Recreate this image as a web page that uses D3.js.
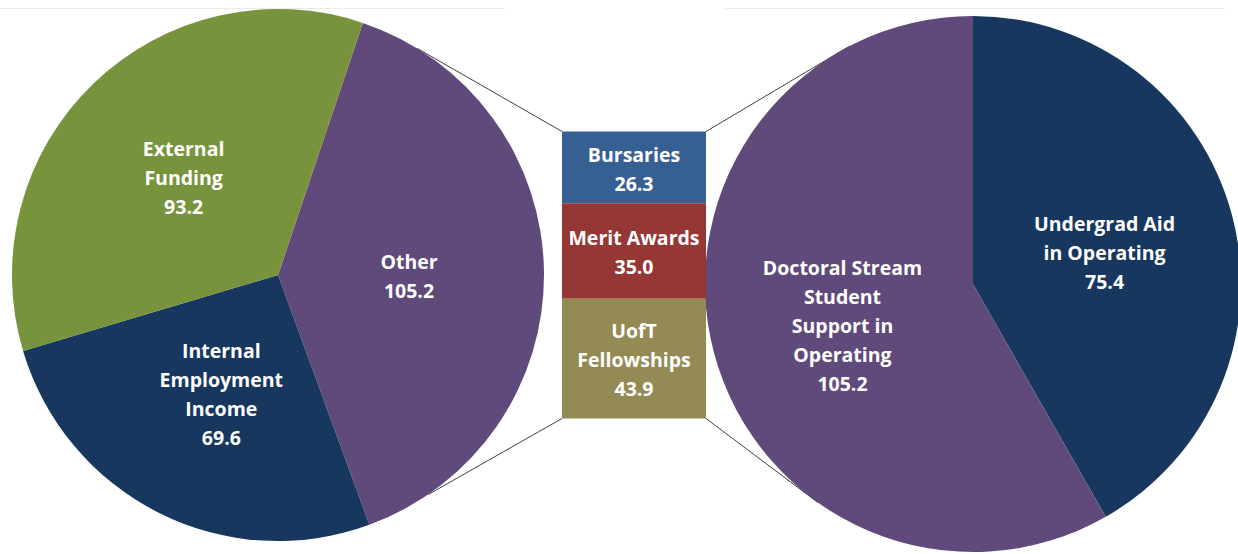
<!DOCTYPE html>
<html>
<head>
<meta charset="utf-8">
<script src="https://cdn.jsdelivr.net/npm/d3@7/dist/d3.min.js"></script>
<style>
  html, body { margin: 0; padding: 0; background: #fff; }
  svg { display: block; }
  text { font-family: "Open Sans", Lato, sans-serif; font-weight: 700; fill: #fff; }
</style>
</head>
<body>
<div id="chart"></div>
<script>
// Left pie: graduate student funding sources
const leftLabels = [["Other"], ["Internal", "Employment", "Income"], ["External", "Funding"]];
const leftValues = [105.2, 69.6, 93.2];
const leftColors = ["#604A7B", "#17375E", "#77933C"];

// Middle stacked bar: breakdown of "Other"
const barLabels = [["Bursaries"], ["Merit Awards"], ["UofT", "Fellowships"]];
const barValues = [26.3, 35.0, 43.9];
const barColors = ["#376092", "#953735", "#948A54"];

// Right pie: operating budget student support
const rightLabels = [["Undergrad Aid", "in Operating"], ["Doctoral Stream", "Student", "Support in", "Operating"]];
const rightValues = [75.4, 105.2];
const rightColors = ["#17375E", "#604A7B"];

const width = 1238, height = 554;
const lineH = 29;

const svg = d3.select("#chart")
  .append("svg")
  .attr("width", width)
  .attr("height", height);

// faint chart border remnants at the top
svg.append("line").attr("x1", 0).attr("x2", 505).attr("y1", 8.5).attr("y2", 8.5)
  .attr("stroke", "#ececec").attr("stroke-width", 1);
svg.append("line").attr("x1", 725).attr("x2", 1225).attr("y1", 8.5).attr("y2", 8.5)
  .attr("stroke", "#ececec").attr("stroke-width", 1);

function drawLabel(g, x, y, lines) {
  const t = g.append("text")
    .attr("text-anchor", "middle")
    .attr("font-size", 19.5);
  const y0 = y - (lines.length - 1) * lineH / 2;
  lines.forEach((s, i) => {
    t.append("tspan").attr("x", x).attr("y", y0 + i * lineH).attr("dy", "0.35em").text(s);
  });
}

function drawPie(cfg) {
  const g = svg.append("g").attr("transform", `translate(${cfg.cx},${cfg.cy})`);
  const pie = d3.pie().sort(null).value(d => d.value)
    .startAngle(cfg.start).endAngle(cfg.start + 2 * Math.PI);
  const data = cfg.values.map((v, i) => ({ value: v, label: cfg.labels[i], color: cfg.colors[i] }));
  const arcs = pie(data);
  const arc = d3.arc().innerRadius(0).outerRadius(cfg.r);
  const labelArc = d3.arc().innerRadius(cfg.r * 0.5).outerRadius(cfg.r * 0.5);

  g.selectAll("path")
    .data(arcs)
    .enter()
    .append("path")
    .attr("d", arc)
    .attr("fill", d => d.data.color);

  arcs.forEach((d, i) => {
    const c = labelArc.centroid(d);
    const nudge = cfg.nudge[i];
    drawLabel(g, c[0] + nudge[0], c[1] + nudge[1],
      d.data.label.concat([d3.format(".1f")(d.value)]));
  });
  return g;
}

const leftPie = { cx: 278, cy: 275, r: 266, start: 18.6 * Math.PI / 180,
  values: leftValues, labels: leftLabels, colors: leftColors,
  nudge: [[-2, 3], [3, 1], [-2, -1]] };
const rightPie = { cx: 973, cy: 284, r: 268, start: 0,
  values: rightValues, labels: rightLabels, colors: rightColors,
  nudge: [[2, 4], [-1, 8]] };

// connector lines (drawn under the pies)
const bar = { x0: 562, x1: 706, y0: 131.5, y1: 418.5 };
function onCircle(p, deg) {
  const a = deg * Math.PI / 180;
  return [p.cx + p.r * Math.sin(a), p.cy - p.r * Math.cos(a)];
}
const connectors = [
  [onCircle(leftPie, 31.6), [bar.x0, bar.y0]],
  [onCircle(leftPie, 145.6), [bar.x0, bar.y1]],
  [onCircle(rightPie, 332.6), [bar.x1, bar.y0]],
  [onCircle(rightPie, 215.4), [bar.x1, bar.y1]]
];
svg.selectAll("line.conn")
  .data(connectors)
  .enter()
  .append("line")
  .attr("class", "conn")
  .attr("x1", d => d[0][0]).attr("y1", d => d[0][1])
  .attr("x2", d => d[1][0]).attr("y2", d => d[1][1])
  .attr("stroke", "#404040")
  .attr("stroke-width", 1);

drawPie(leftPie);
drawPie(rightPie);

// stacked bar
const barTotal = d3.sum(barValues);
const y = d3.scaleLinear().domain([0, barTotal]).range([bar.y0, bar.y1]);
const cum = d3.cumsum(barValues);
const barData = barValues.map((v, i) => ({ v, start: cum[i] - v, end: cum[i], label: barLabels[i], color: barColors[i] }));
const bg = svg.append("g");
bg.selectAll("rect")
  .data(barData)
  .enter()
  .append("rect")
  .attr("x", bar.x0)
  .attr("width", bar.x1 - bar.x0)
  .attr("y", d => y(d.start))
  .attr("height", d => y(d.end) - y(d.start))
  .attr("fill", d => d.color);
barData.forEach(d => {
  drawLabel(bg, (bar.x0 + bar.x1) / 2, (y(d.start) + y(d.end)) / 2 + 2,
    d.label.concat([d3.format(".1f")(d.v)]));
});
</script>
</body>
</html>
